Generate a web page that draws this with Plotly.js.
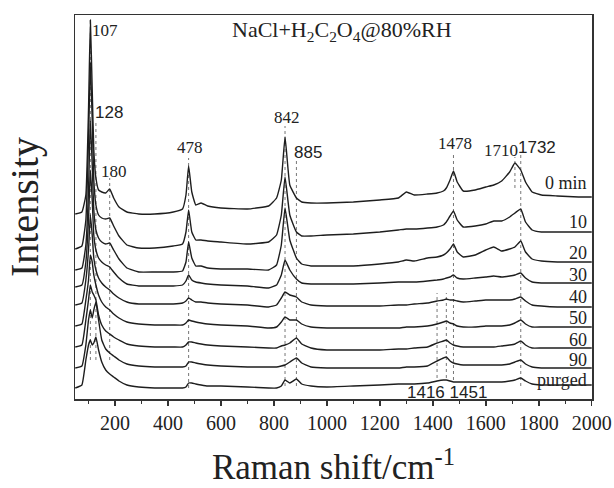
<!DOCTYPE html>
<html>
<head>
<meta charset="utf-8">
<script src="https://cdn.plot.ly/plotly-3.0.1.min.js"></script>
<style>html,body{margin:0;padding:0;background:#fff;}#chart{width:614px;height:488px;}</style>
</head>
<body>
<div id="chart"></div>
<script>
// Raman shift (cm-1) sampling points
const shift = [50,75,90,100,107,114,120,128,138,150,165,180,195,215,245,290,350,420,455,468,478,490,505,525,550,600,700,780,810,828,842,860,885,905,940,1000,1100,1200,1270,1300,1330,1380,1416,1440,1451,1465,1478,1492,1515,1560,1600,1630,1660,1690,1710,1732,1750,1775,1810,1870,1950,2000];

// Stacked intensities (arbitrary units, offset spectra)
const i0min = [186,188,205,290,380,310,250,222,210,208,207,211,202,193,188,186,186,188,191,205,234,208,195,197,194,192,191,194,202,220,263,215,202,198,197,197,198,200,202,208,205,206,207,209,212,220,229,218,209,210,213,215,219,228,237,230,218,208,205,204,203,203];
const i10 = [151,154,180,260,338,280,220,195,185,182,181,182,174,164,155,152,152,154,156,168,190,168,160,160,159,158,156,158,165,185,223,185,168,164,164,165,166,168,170,171,171,172,173,175,178,184,189,180,173,174,176,179,179,183,187,191,178,170,168,168,168,168];
const i20 = [130,132,155,210,280,235,190,170,162,158,156,157,150,141,132,128,128,128,129,138,158,142,134,134,132,131,131,130,135,155,192,160,142,136,134,134,134,136,138,140,139,142,143,145,147,151,156,148,143,145,150,153,149,151,153,159,148,141,139,138,138,138];
const i30 = [113,115,138,180,230,200,165,150,142,138,135,133,128,122,116,114,114,114,115,119,125,120,118,117,116,115,114,112,115,125,140,130,121,117,116,116,116,117,118,118,118,119,120,121,122,123,125,122,121,122,123,124,123,124,125,127,122,118,117,117,117,117];
const i40 = [95,97,120,150,185,165,142,130,122,117,113,110,106,102,98,96,96,96,97,99,102,100,98,98,97,96,95,93,95,102,108,105,103,98,95,94,94,94,95,95,96,97,99,100,101,100,100,99,98,99,100,100,100,100,101,103,99,95,94,93,93,93];
const i50 = [74,76,100,120,145,138,125,115,105,98,93,90,86,82,78,76,75,75,75,77,80,79,78,77,76,75,74,72,73,78,83,80,80,76,73,72,72,72,72,73,73,74,76,78,79,77,76,74,73,73,74,74,74,75,77,80,76,73,73,73,73,73];
const i60 = [53,55,80,100,115,108,105,100,85,75,69,66,63,60,56,54,53,53,53,55,58,58,57,56,55,54,53,52,52,54,55,57,62,56,52,50,50,50,51,51,52,53,57,59,60,57,55,54,53,53,53,53,54,55,56,59,55,52,52,52,52,52];
const i90 = [32,34,55,80,90,82,90,98,80,60,51,47,44,40,36,34,33,33,33,34,38,38,37,36,35,34,33,33,33,34,35,38,42,37,33,32,32,32,32,33,33,34,39,42,43,39,37,36,35,35,35,35,35,36,38,40,36,33,32,32,32,32];
const iPurged = [12,15,40,55,60,55,57,63,50,38,30,26,23,19,15,13,12,12,12,13,17,17,16,15,14,14,13,12,12,14,20,17,21,16,14,13,14,15,16,16,16,17,19,20,20,19,18,18,18,18,18,18,18,19,20,22,19,16,15,15,15,15];

const seriesNames = ["0 min","10","20","30","40","50","60","90","purged"];
const seriesData = [i0min,i10,i20,i30,i40,i50,i60,i90,iPurged];
// label heights for series names (intensity units)
const nameY = [217,178,147,125,103,82,60,40,20];

// Peak markers: position, dotted line extent (top, bottom)
const peakPos = [107,128,180,478,842,885,1416,1451,1478,1710,1732];
const peakTop = [382,278,222,242,274,240,107,107,247,243,248];
const peakBot = [40,40,40,12,14,14,22,22,20,212,14];
// Peak labels
const peakLabels = ["107","128","180","478","842","885","1478","1710","1732","1416 1451"];
const peakLabelX = [164,177,198,483,848,927,1484,1658,1794,1452];
const peakLabelY = [370,288,229,253,283,248,257,250,253,8];
const peakLabelSans = [false,true,false,false,false,true,false,false,true,true];

const serif = "Liberation Serif, Times New Roman, serif";
const sans = "Liberation Sans, Arial, sans-serif";

const traces = seriesData.map((d,k)=>({
  x: shift, y: d, type:'scatter', mode:'lines', name: seriesNames[k],
  line:{color:'#1e1e1e', width:1.4, shape:'spline', smoothing:0.35},
  hoverinfo:'skip', showlegend:false
}));

const shapes = peakPos.map((p,k)=>({
  type:'line', xref:'x', yref:'y', x0:p, x1:p, y0:peakBot[k], y1:peakTop[k],
  line:{color:'#777', width:1, dash:'dot'}, layer:'below'
}));

const annotations = [];
peakLabels.forEach((t,k)=>{
  annotations.push({x:peakLabelX[k], y:peakLabelY[k], xref:'x', yref:'y', text:t, showarrow:false,
    xanchor:'center', yanchor:'middle',
    font:{family: peakLabelSans[k]?sans:serif, size: peakLabelSans[k]?17:17, color:'#222'}});
});
seriesNames.forEach((t,k)=>{
  annotations.push({x:1990, y:nameY[k], xref:'x', yref:'y', text:t, showarrow:false,
    xanchor:'right', yanchor:'middle', font:{family:serif, size:18, color:'#222'}});
});
annotations.push({x:1057, y:369, xref:'x', yref:'y', text:'NaCl+H<sub>2</sub>C<sub>2</sub>O<sub>4</sub>@80%RH',
  showarrow:false, xanchor:'center', yanchor:'middle', font:{family:serif, size:22, color:'#222'}});

const layout = {
  width:614, height:488,
  margin:{l:75, r:22, t:15, b:89, pad:0},
  paper_bgcolor:'#fff', plot_bgcolor:'#fff',
  xaxis:{
    range:[49,2001], tick0:0, dtick:200, ticks:'outside', ticklen:5, tickwidth:1.5, tickcolor:'#333',
    minor:{dtick:100, tick0:0, ticks:'outside', ticklen:3, tickwidth:1.2, tickcolor:'#333'},
    showline:true, linecolor:'#333', linewidth:1.5, mirror:true, showgrid:false, zeroline:false,
    tickfont:{family:serif, size:20, color:'#222'},
    title:{text:'Raman shift/cm<sup>-1</sup>', font:{family:serif, size:35, color:'#222'}, standoff:22},
    automargin:false
  },
  yaxis:{
    range:[1,385], showticklabels:false, ticks:'', showline:true, linecolor:'#333', linewidth:1.5,
    mirror:true, showgrid:false, zeroline:false,
    title:{text:'Intensity', font:{family:serif, size:40, color:'#222'}, standoff:22},
    automargin:false
  },
  shapes: shapes,
  annotations: annotations,
  showlegend:false
};

Plotly.newPlot('chart', traces, layout, {staticPlot:true, displayModeBar:false});
</script>
</body>
</html>
